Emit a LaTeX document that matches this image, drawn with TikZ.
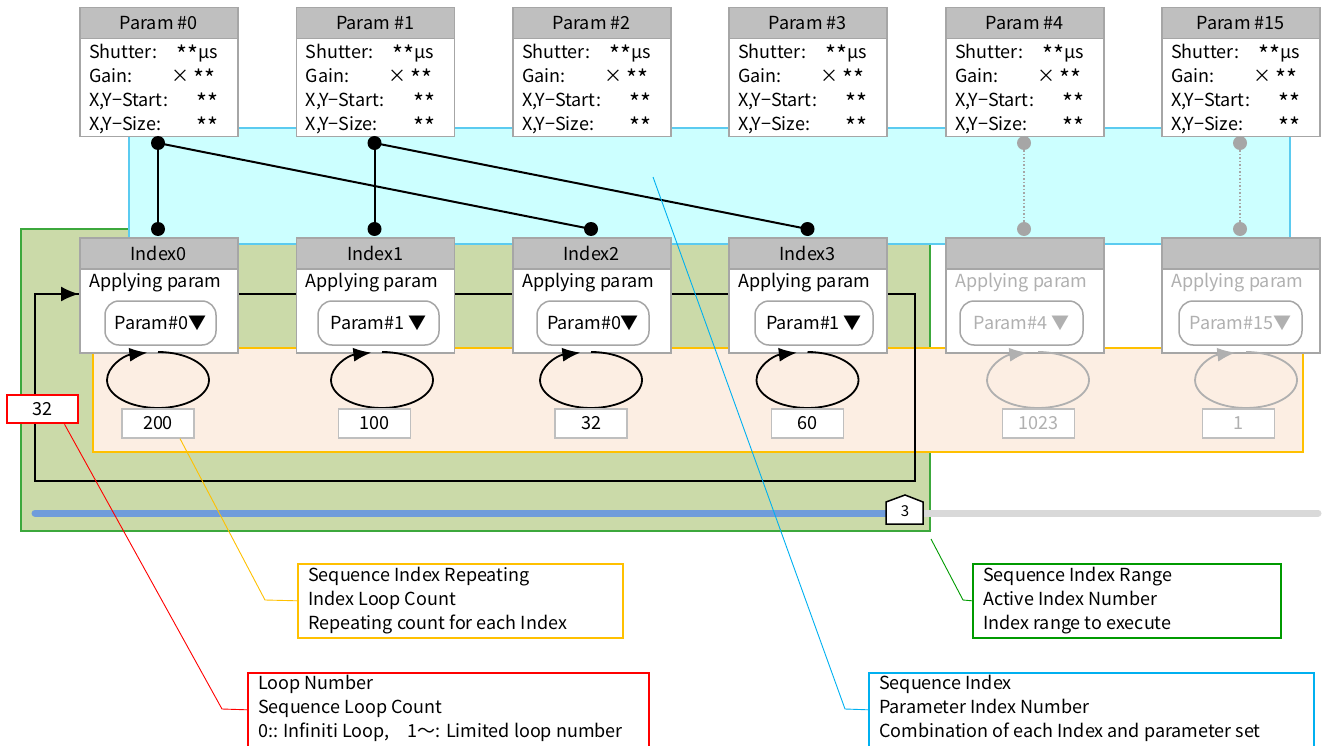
\documentclass[tikz,border=0pt]{standalone}
\usepackage{fontspec}
\usepackage{graphicx}
\setmainfont{Noto Sans CJK JP}
\usetikzlibrary{arrows.meta}
\definecolor{hdrgray}{HTML}{BFBFBF}
\definecolor{boxedge}{HTML}{A6A6A6}
\definecolor{cyanfill}{HTML}{CCFFFF}
\definecolor{cyanedge}{HTML}{5BCBF0}
\definecolor{greenfill}{HTML}{CBDAA9}
\definecolor{greenedge}{HTML}{3CA83C}
\definecolor{peachfill}{HTML}{FCEEE3}
\definecolor{orangeedge}{HTML}{FFC000}
\definecolor{barblue}{HTML}{6F9CDB}
\definecolor{bargray}{HTML}{D9D9D9}
\definecolor{fadetext}{HTML}{B0B0B0}
\definecolor{calloutcyan}{HTML}{00B0F0}
\definecolor{calloutgreen}{HTML}{009A00}
\definecolor{calloutred}{HTML}{FF0000}
\definecolor{countedge}{HTML}{BFBFBF}
\newcommand{\stars}{\raisebox{-0.45ex}{\scalebox{1.3}{**}}}
\newcommand{\ParamBox}[3]{%
  \node[hdr] (#1h) at (#2,7) {#3};
  \node[bodybox, minimum height=98pt] (#1) at (#2,38) {};
  \node[lbl] (#1la) at (#2+10,54) {Shutter:};
  \node[lbl] (#1lb) at (#2+10,78) {Gain:};
  \node[lbl] (#1lc) at (#2+10,102) {X,Y−Start:};
  \node[lbl] (#1ld) at (#2+10,126) {X,Y−Size:};
  \node[val] (#1va) at (#2+139,54) {\stars μs};
  \node[val] (#1vb) at (#2+137,78) {× \stars};
  \node[val] (#1vc) at (#2+140,102) {\stars};
  \node[val] (#1vd) at (#2+140,126) {\stars};
}
\begin{document}
\begin{tikzpicture}[x=1pt,y=-1pt,
  font=\fontsize{18}{21}\selectfont,
  hdr/.style={draw=boxedge, fill=hdrgray, line width=1.5pt, minimum width=158pt, minimum height=31pt, inner sep=0pt, anchor=north west},
  bodybox/.style={draw=boxedge, fill=white, line width=1.5pt, minimum width=158pt, inner sep=0pt, anchor=north west},
  lbl/.style={anchor=west, inner sep=0pt, text height=13pt, text depth=3pt},
  val/.style={anchor=east, inner sep=0pt, text height=13pt, text depth=3pt},
  dd/.style={draw=boxedge, fill=white, line width=1.5pt, rounded corners=14pt, minimum height=44pt, inner sep=0pt},
  cnt/.style={draw=countedge, fill=white, line width=1.2pt, minimum width=72pt, minimum height=29pt, inner sep=0pt},
  dot/.style={circle, fill=black, minimum size=14pt, inner sep=0pt},
  gdot/.style={circle, fill=boxedge, minimum size=14pt, inner sep=0pt},
  link/.style={line width=2pt, black},
  callout/.style={fill=white, line width=1.6pt, anchor=north west, inner sep=0pt},
  leader/.style={line width=0.9pt}
]
\useasboundingbox (0,0) rectangle (1327,746);
% background areas
\path[fill=greenfill, draw=greenedge, line width=1.2pt] (21,229) rectangle (930,531);
\path[fill=cyanfill, draw=cyanedge, line width=1.2pt] (129,128) rectangle (1290,244);
\path[fill=peachfill, draw=orangeedge, line width=1.2pt] (93,348) rectangle (1303,452);
% outer loop
\coordinate (lp) at (35,294);
\draw[line width=2pt] (35,294) rectangle (915,481);
% progress bars
\coordinate (bb0) at (35,513);
\coordinate (bb1) at (893,513);
\coordinate (bg0) at (912,513);
\coordinate (bg1) at (1318,513);
\draw[bargray, line width=7pt, line cap=round] (bg0) -- (bg1);
\draw[barblue, line width=7pt, line cap=round] (bb0) -- (bb1);
\draw[line width=1.5pt, fill=white] (886,502) -- (905,495) -- (923,502) -- (923,524) -- (886,524) -- cycle;
\node[inner sep=0pt, font=\fontsize{15}{17}\selectfont] (rng) at (905,511) {3};
% param boxes
\ParamBox{p0}{79}{Param \#0}
\ParamBox{p1}{295.5}{Param \#1}
\ParamBox{p2}{512}{Param \#2}
\ParamBox{p3}{728}{Param \#3}
\ParamBox{p4}{945}{Param \#4}
\ParamBox{p15}{1161}{Param \#15}
% index boxes
\foreach \n/\lx/\t/\ddt/\dcx/\dw/\ecx/\cv/\ccx/\col in {
  0/79/Index0/Param\#0▼/160.5/111/158/200/158/black,
  1/295.5/Index1/Param\#1 ▼/378.5/121/382/100/374.5/black,
  2/512/Index2/Param\#0▼/593/112/591/32/591/black,
  3/728/Index3/Param\#1 ▼/814/118/807.5/60/807.5/black,
  4/945//Param\#4 ▼/1021.5/123/1038/1023/1038.5/fadetext,
  15/1161//Param\#15▼/1240.5/123/1246/1/1238.5/fadetext}{
  \node[hdr] (i\n h) at (\lx,237) {\t};
  \node[bodybox, minimum height=84pt] (i\n) at (\lx,268) {};
  \node[lbl, text=\col] (i\n ap) at (\lx+10,282) {Applying param};
  \node[dd, minimum width=\dw pt, text=\col] (i\n dd) at (\dcx,323) {\ddt};
  \draw[line width=1.8pt, draw=\col, fill=none, -{Latex[length=18pt,width=14pt,fill=\col]}] (\ecx,352) arc[start angle=90, end angle=-258, x radius=51pt, y radius=28pt];
  \node[cnt, text=\col] (c\n) at (\ccx,423.5) {\cv};
}
% loop entry arrow
\draw[line width=2pt, -{Latex[length=18pt,width=15pt]}] (lp) -- (lp -| i0.west);
% param-index links
\node[dot] (d0) at (158,143) {};
\node[dot] (d1) at (374.5,143) {};
\node[dot] (e0) at (158,229) {};
\node[dot] (e1) at (374.5,229) {};
\node[dot] (e2) at (591,229) {};
\node[dot] (e3) at (807.5,229) {};
\node[gdot] (d4) at (1024,143) {};
\node[gdot] (e4) at (1024,229) {};
\node[gdot] (d15) at (1240,143) {};
\node[gdot] (e15) at (1240,229) {};
\draw[link] (d0.center) -- (e0.center);
\draw[link] (d0.center) -- (e2.center);
\draw[link] (d1.center) -- (e1.center);
\draw[link] (d1.center) -- (e3.center);
\draw[boxedge, line width=1.5pt, dotted] (d4) -- (e4);
\draw[boxedge, line width=1.5pt, dotted] (d15) -- (e15);
% loop number box
\node[draw=calloutred, fill=white, line width=2.5pt, minimum width=71pt, minimum height=28pt, inner sep=0pt] (r32) at (42.5,409) {32};
% callout boxes
\node[callout, draw=orangeedge, minimum width=325pt, minimum height=74pt] (cy) at (297,563) {};
\node[lbl] (cy1) at (308,576) {Sequence Index Repeating};
\node[lbl] (cy2) at (308,600) {Index Loop Count};
\node[lbl] (cy3) at (308,624) {Repeating count for each Index};
\node[callout, draw=calloutred, minimum width=401pt, minimum height=74pt] (cr) at (247,672) {};
\node[lbl] (cr1) at (258,684) {Loop Number};
\node[lbl] (cr2) at (258,708) {Sequence Loop Count};
\node[lbl] (cr3) at (258,732) {0:: Infiniti Loop,　1〜: Limited loop number};
\node[callout, draw=calloutgreen, minimum width=308pt, minimum height=74pt] (cg) at (972,563) {};
\node[lbl] (cg1) at (983,576) {Sequence Index Range};
\node[lbl] (cg2) at (983,600) {Active Index Number};
\node[lbl] (cg3) at (983,624) {Index range to execute};
\node[callout, draw=calloutcyan, minimum width=445pt, minimum height=74pt] (cc) at (868,672) {};
\node[lbl] (cc1) at (879,684) {Sequence Index};
\node[lbl] (cc2) at (879,708) {Parameter Index Number};
\node[lbl] (cc3) at (879,732) {Combination of each Index and parameter set};
% leaders
\coordinate (ly) at (265,600);
\coordinate (lr) at (222,709);
\coordinate (lg0) at (931,539);
\coordinate (lg) at (963,600);
\coordinate (lc0) at (653,177);
\coordinate (lc) at (845,709);
\draw[leader, orangeedge] ([xshift=22pt]c0.south) -- (ly) -- (cy.west);
\draw[leader, calloutred] ([xshift=22pt]r32.south) -- (lr) -- (cr.west);
\draw[leader, calloutgreen] (lg0) -- (lg) -- (cg.west);
\draw[leader, calloutcyan] (lc0) -- (lc) -- (cc.west);
\end{tikzpicture}
\end{document}
